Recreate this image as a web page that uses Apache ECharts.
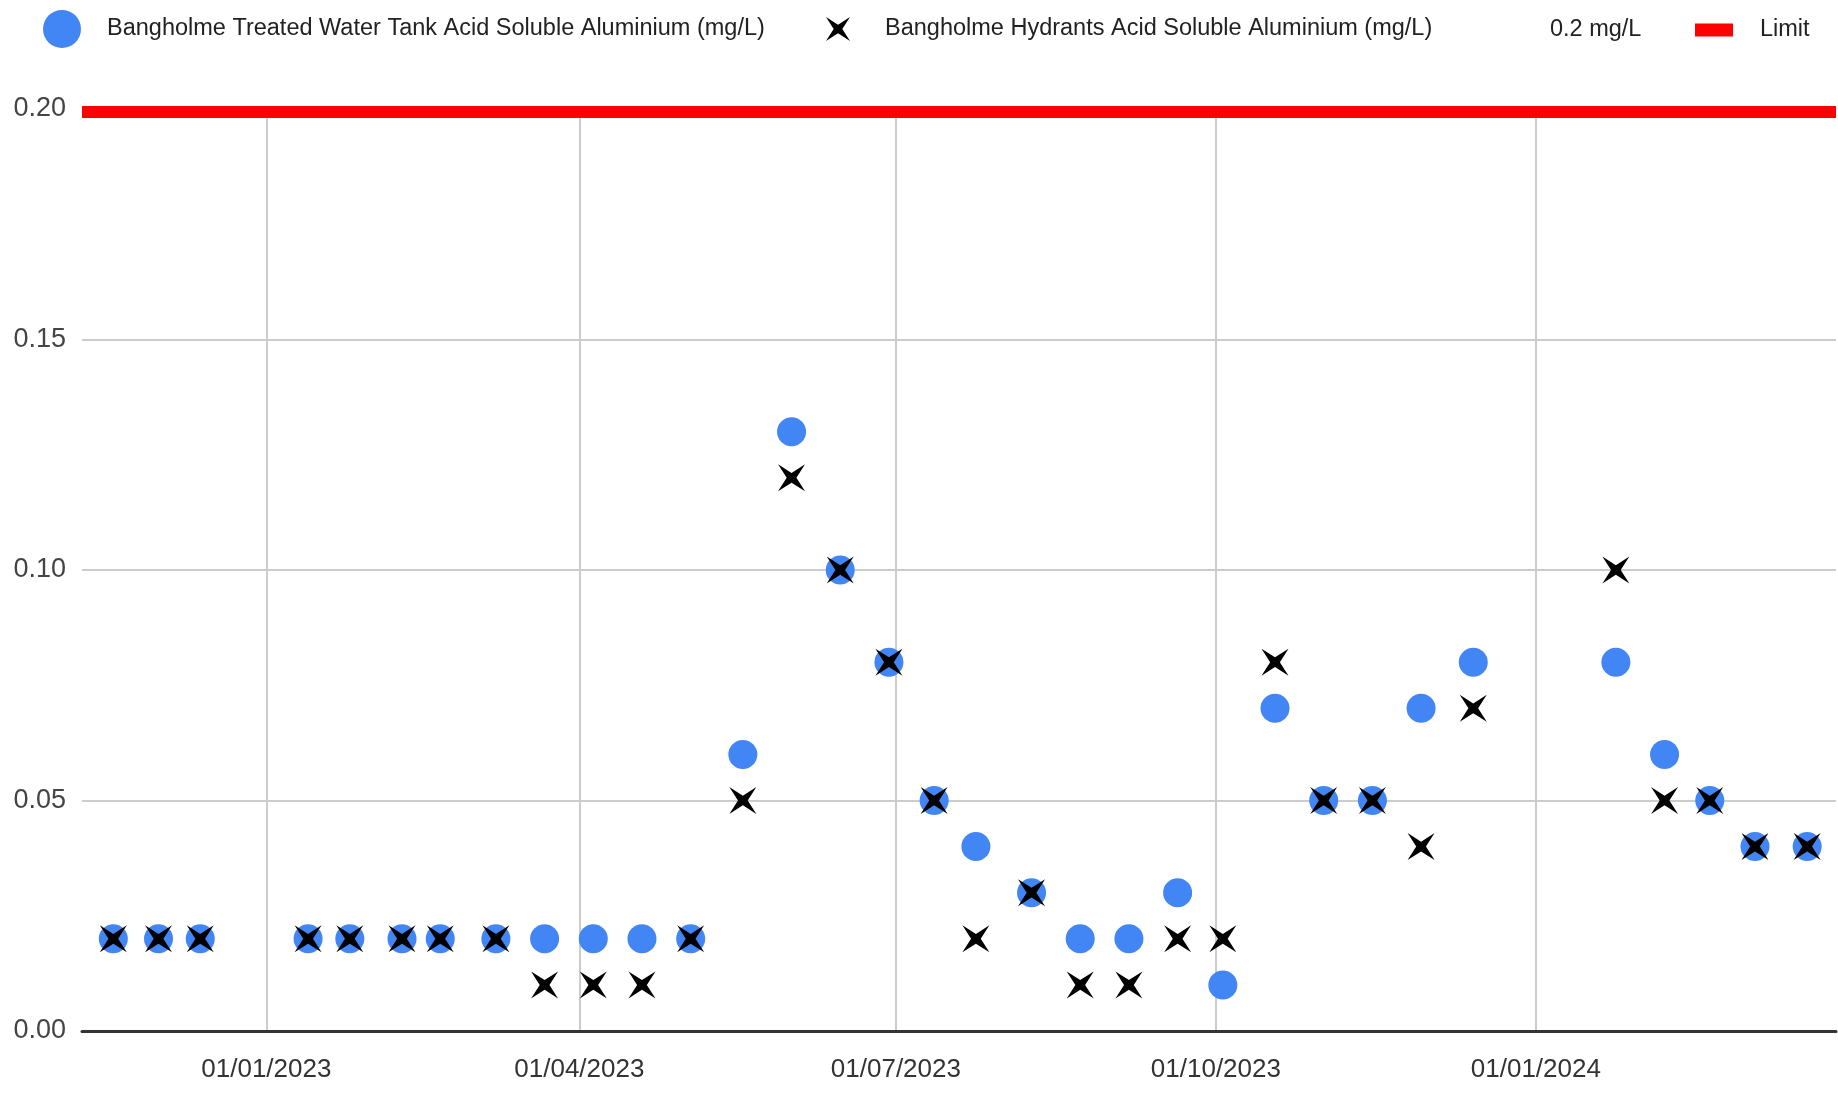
<!DOCTYPE html>
<html>
<head>
<meta charset="utf-8">
<script src="https://cdn.jsdelivr.net/npm/echarts@6/dist/echarts.min.js"></script>
<style>
html,body{margin:0;padding:0;background:#fff;}
#chart{width:1838px;height:1094px;}
</style>
</head>
<body>
<div id="chart"></div>
<script>
// ---- data ----
const sampleDates = [
  '2022-11-18','2022-12-01','2022-12-13','2023-01-13','2023-01-25','2023-02-09','2023-02-20',
  '2023-03-08','2023-03-22','2023-04-05','2023-04-19','2023-05-03','2023-05-18','2023-06-01',
  '2023-06-15','2023-06-29','2023-07-12','2023-07-24','2023-08-09','2023-08-23','2023-09-06',
  '2023-09-20','2023-10-03','2023-10-18','2023-11-01','2023-11-15','2023-11-29','2023-12-14',
  '2024-01-24','2024-02-07','2024-02-20','2024-03-04','2024-03-19'
];
const tankValues = [
  0.02,0.02,0.02,0.02,0.02,0.02,0.02,
  0.02,0.02,0.02,0.02,0.02,0.06,0.13,
  0.10,0.08,0.05,0.04,0.03,0.02,0.02,
  0.03,0.01,0.07,0.05,0.05,0.07,0.08,
  0.08,0.06,0.05,0.04,0.04
];
const hydrantValues = [
  0.02,0.02,0.02,0.02,0.02,0.02,0.02,
  0.02,0.01,0.01,0.01,0.02,0.05,0.12,
  0.10,0.08,0.05,0.02,0.03,0.01,0.01,
  0.02,0.02,0.08,0.05,0.05,0.04,0.07,
  0.10,0.05,0.05,0.04,0.04
];
const limitValue = 0.2;
const xTickDates = ['2023-01-01','2023-04-01','2023-07-01','2023-10-01','2024-01-01'];
const yTicks = [0, 0.05, 0.10, 0.15, 0.20];
const xRange = ['2022-11-09T00:00', '2024-03-27T07:00'];
const seriesNames = [
  'Bangholme Treated Water Tank Acid Soluble Aluminium (mg/L)',
  'Bangholme Hydrants Acid Soluble Aluminium (mg/L)',
  '0.2 mg/L',
  'Limit'
];

// ---- helpers ----
function toTime(s) {
  const [d, t] = s.split('T');
  const [y, m, dd] = d.split('-').map(Number);
  let hh = 0, mm = 0;
  if (t) { [hh, mm] = t.split(':').map(Number); }
  return new Date(y, m - 1, dd, hh, mm).getTime();
}
function pad2(n) { return (n < 10 ? '0' : '') + n; }

const xMin = toTime(xRange[0]);
const xMax = toTime(xRange[1]);
const tankData = sampleDates.map((d, i) => [toTime(d), tankValues[i]]);
const hydrantData = sampleDates.map((d, i) => [toTime(d), hydrantValues[i]]);
const limitData = [[xMin, limitValue], [xMax, limitValue]];
const xTicks = xTickDates.map(toTime);

const starPath = 'path://M0,0L50,32L100,0L68,50L100,100L50,68L0,100L32,50Z';
const sansFont = '"Liberation Sans",Arial,sans-serif';
function legendText(padLeft) {
  return {fontFamily: sansFont, fontSize: 23.5, color: '#222', padding: [0, 0, 0, padLeft]};
}
const legendBase = {padding: 0, itemHeight: 38, itemGap: 0, selectedMode: false, symbolKeepAspect: true};

const chart = echarts.init(document.getElementById('chart'), null, {renderer: 'canvas'});
chart.setOption({
  animation: false,
  backgroundColor: '#fff',
  grid: {left: 82, right: 2, top: 109, bottom: 63, containLabel: false},
  legend: [
    Object.assign({}, legendBase, {left: 43, top: 10, itemWidth: 38,
      data: [{name: seriesNames[0], icon: 'circle'}], textStyle: legendText(21)}),
    Object.assign({}, legendBase, {left: 826, top: 17, itemWidth: 24,
      data: [{name: seriesNames[1], icon: starPath}], textStyle: legendText(30)}),
    Object.assign({}, legendBase, {left: 1486, top: 11, itemWidth: 38,
      data: [{name: seriesNames[2], icon: 'rect', itemStyle: {color: 'rgba(0,0,0,0)'}}], textStyle: legendText(21)}),
    Object.assign({}, legendBase, {left: 1695, top: 18, itemWidth: 38,
      data: [{name: seriesNames[3], icon: 'path://M0,0H38V13H0Z'}], textStyle: legendText(22)})
  ],
  xAxis: {
    type: 'value',
    min: xMin,
    max: xMax,
    axisLine: {show: true, onZero: true, lineStyle: {color: '#333', width: 3}},
    axisTick: {show: false, customValues: xTicks},
    axisLabel: {
      customValues: xTicks,
      margin: 26,
      fontFamily: sansFont,
      fontSize: 26,
      color: '#333',
      formatter: function (v) {
        const d = new Date(v);
        return pad2(d.getDate()) + '/' + pad2(d.getMonth() + 1) + '/' + d.getFullYear();
      }
    },
    splitLine: {show: true, lineStyle: {color: '#cccccc', width: 2}}
  },
  yAxis: {
    type: 'value',
    min: yTicks[0],
    max: yTicks[yTicks.length - 1],
    interval: 0.05,
    axisLine: {show: false},
    axisTick: {show: false},
    axisLabel: {
      margin: 16,
      fontFamily: sansFont,
      fontSize: 27,
      color: '#444',
      formatter: function (v) { return v.toFixed(2); }
    },
    splitLine: {show: true, lineStyle: {color: '#cccccc', width: 2}}
  },
  series: [
    {
      name: seriesNames[3], type: 'line', data: limitData, showSymbol: false, symbol: 'none',
      clip: false, z: 3,
      itemStyle: {color: '#ff0000'},
      lineStyle: {color: '#ff0000', width: 6, shadowColor: '#ff0000', shadowBlur: 0, shadowOffsetY: 6}
    },
    {
      name: seriesNames[0], type: 'scatter', data: tankData, symbol: 'circle', symbolSize: 29,
      z: 4, itemStyle: {color: '#4285f4', opacity: 1}
    },
    {
      name: seriesNames[1], type: 'scatter', data: hydrantData, symbol: starPath, symbolSize: 27,
      z: 5, itemStyle: {color: '#000000', opacity: 1}
    },
    {
      name: seriesNames[2], type: 'scatter', data: [], itemStyle: {color: 'rgba(0,0,0,0)'}
    }
  ]
});
</script>
</body>
</html>
